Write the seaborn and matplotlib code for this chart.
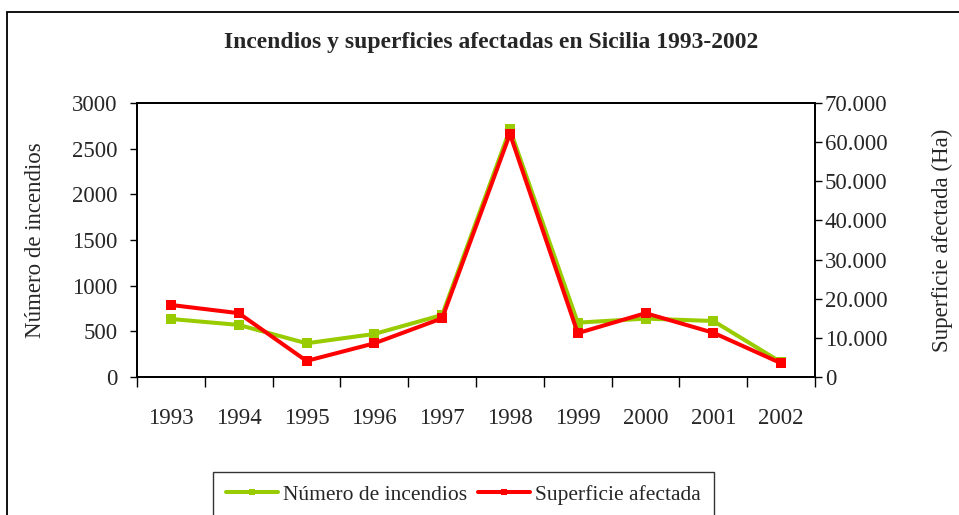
import pandas as pd
import seaborn as sns
import matplotlib.pyplot as plt
from matplotlib.ticker import FuncFormatter
from matplotlib.lines import Line2D
from matplotlib.patches import Rectangle

years = ['1993', '1994', '1995', '1996', '1997', '1998', '1999', '2000', '2001', '2002']
incendios = [635, 570, 369, 471, 679, 2711, 595, 639, 613, 161]
superficie = [18400, 16300, 4100, 8600, 15000, 62100, 11200, 16300, 11300, 3500]

df = pd.DataFrame({'pos': range(len(years)), 'year': years,
                   'incendios': incendios, 'superficie': superficie})

sns.set_style('ticks')
plt.rcParams['font.family'] = ['Liberation Serif', 'DejaVu Serif']

fig = plt.figure(figsize=(9.59, 5.15), dpi=100)
ax = fig.add_axes([0.1429, 0.268, 0.707, 0.532])
ax2 = ax.twinx()

green = '#99CC00'
red = '#FF0000'
fs = 16.5
sns.lineplot(data=df, x='pos', y='incendios', ax=ax, color=green, lw=2.9,
             marker='s', markersize=6.5, markeredgewidth=0)
sns.lineplot(data=df, x='pos', y='superficie', ax=ax2, color=red, lw=2.9,
             marker='s', markersize=6.5, markeredgewidth=0)

ax.set_xlim(-0.5, len(years) - 0.5)
ax.set_ylim(0, 3000)
ax2.set_ylim(0, 70000)
ax.set_yticks(range(0, 3001, 500))
ax2.set_yticks(range(0, 70001, 10000))
ax2.yaxis.set_major_formatter(FuncFormatter(lambda v, p: f'{int(v):,}'.replace(',', '.')))

ax.set_xticks([i - 0.5 for i in range(len(years) + 1)])
ax.set_xticklabels([])
ax.set_xticks(range(len(years)), minor=True)
ax.set_xticklabels(years, minor=True)
ax.tick_params(axis='x', which='major', length=7, width=1, color='black', direction='out')
ax.tick_params(axis='x', which='minor', length=0, pad=22, labelsize=fs)
ax.tick_params(axis='y', length=5, width=1, color='black', labelsize=fs, pad=9)
ax2.tick_params(axis='y', length=5, width=1, color='black', labelsize=fs, pad=2)

ax.set_xlabel('')
ax.set_ylabel('Número de incendios', fontsize=fs, labelpad=19)
ax2.set_ylabel('Superficie afectada (Ha)', fontsize=fs, labelpad=32)

for a in (ax, ax2):
    for s in a.spines.values():
        s.set_visible(True)
        s.set_color('black')
        s.set_linewidth(1.3)

fig.text(0.512, 0.918, 'Incendios y superficies afectadas en Sicilia 1993-2002',
         ha='center', va='center', fontsize=17, fontweight='bold')

handles = [Line2D([], [], color=green, lw=2.9, marker='s', markersize=5, markeredgewidth=0),
           Line2D([], [], color=red, lw=2.9, marker='s', markersize=5, markeredgewidth=0)]
leg = fig.legend(handles, ['Número de incendios', 'Superficie afectada'],
                 loc='upper center', bbox_to_anchor=(0.4833, 0.0835), ncol=2,
                 fontsize=15.5, frameon=True, fancybox=False, edgecolor='black',
                 handlelength=2.4, handletextpad=0.25, columnspacing=0.5,
                 borderpad=0.6, borderaxespad=0)
leg.get_frame().set_linewidth(1)

fig.patches.append(Rectangle((0.0075, -0.1), 1.1, 1.077, transform=fig.transFigure,
                             fill=False, edgecolor='black', lw=1.3))

fig.savefig('out.png', dpi=100)
